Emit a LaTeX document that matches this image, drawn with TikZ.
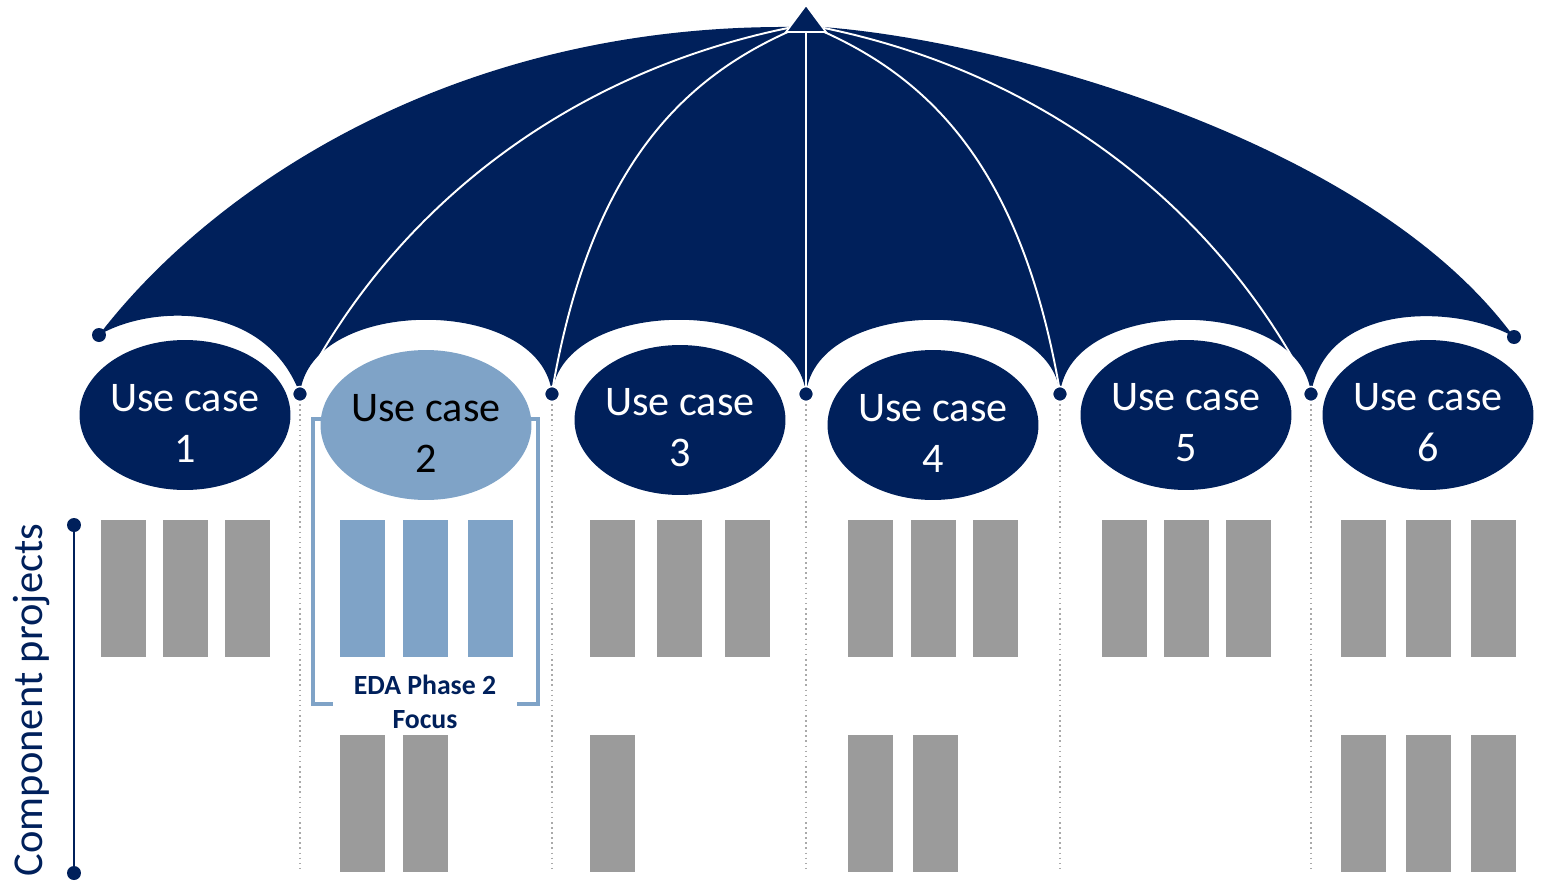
\documentclass[tikz,border=0pt]{standalone}
\usepackage{fontspec}
\setmainfont{Carlito}
\usetikzlibrary{shapes.geometric}
\definecolor{navy}{RGB}{0,32,91}
\definecolor{lblue}{RGB}{127,163,199}
\definecolor{bargray}{RGB}{155,155,155}
\definecolor{sepgray}{RGB}{170,170,170}
\begin{document}
\begin{tikzpicture}[x=0.02cm,y=-0.02cm,
 uc/.style={ellipse, fill=navy, minimum width=4.22cm, minimum height=3cm, inner sep=0pt},
 ucl/.style={uc, fill=lblue},
 uctext/.style={text=white, align=center, inner sep=0pt, font=\fontsize{24}{29}\selectfont},
 uctextl/.style={uctext, text=black},
 dot/.style={circle, fill=navy, draw=white, line width=0.9pt, minimum size=0.3cm, inner sep=0pt},
 tipdot/.style={circle, fill=navy, minimum size=0.28cm, inner sep=0pt},
 rib/.style={white, line width=1.1pt},
 sep/.style={sepgray, dotted, line width=0.9pt},
 bar/.style={fill=bargray},
 bluebar/.style={fill=lblue},
 bracket/.style={lblue, line width=2pt},
]
\useasboundingbox (0,0) rectangle (1549,886);

% canopy
\fill[navy] (99,335) .. controls (210,190) and (450,25) .. (790,27) -- (822,27)
 .. controls (1000,40) and (1370,140) .. (1514,337)
 .. controls (1460,305) and (1326,300) .. (1311,394)
 .. controls (1301,295) and (1070,295) .. (1060,394)
 .. controls (1050,295) and (816,295) .. (806,394)
 .. controls (796,295) and (562,295) .. (552,394)
 .. controls (542,295) and (310,295) .. (300,394)
 .. controls (265,300) and (150,305) .. (99,335) -- cycle;

% dots and apex points
\node[tipdot] (tl) at (99,335) {};
\node[tipdot] (tr) at (1514,337) {};
\coordinate (aL1) at (788,28);
\coordinate (aL2) at (790,31);
\coordinate (aC) at (806,32);
\coordinate (aR2) at (822,31);
\coordinate (aR1) at (824,28);

% ribs
\draw[rib] (aL1) .. controls (560,75) and (390,215) .. (300,392);
\draw[rib] (aL2) .. controls (680,80) and (590,170) .. (552,392);
\draw[rib] (aC) -- (806,394);
\draw[rib] (aR2) .. controls (932,80) and (1022,170) .. (1060,392);
\draw[rib] (aR1) .. controls (1052,75) and (1222,215) .. (1311,392);

% apex triangle
\filldraw[fill=navy, draw=white, line width=1pt] (806,5) -- (786,32) -- (826,32) -- cycle;

% separators
\foreach \x/\n in {300/1,552/2,806/3,1060/4,1311/5}{
  \coordinate (s\n) at (\x,870);
  \draw[sep] (\x,394) -- (s\n);
  \node[dot] (d\n) at (\x,394) {};
}

% bracket
\draw[bracket] (328,419) -- (313,419) -- (313,704) -- (333,704);
\draw[bracket] (524,419) -- (538,419) -- (538,704) -- (517,704);

% use case ellipses
\node[uc] (u1) at (185,415) {};
\node[ucl] (u2) at (426,425) {};
\node[uc] (u3) at (680,420) {};
\node[uc] (u4) at (933,425) {};
\node[uc] (u5) at (1186,415) {};
\node[uc] (u6) at (1428,415) {};
\node[uctext] (t1) at ([yshift=-0.16cm]u1.center) {Use case\\1};
\node[uctextl] (t2) at ([yshift=-0.16cm]u2.center) {Use case\\2};
\node[uctext] (t3) at ([yshift=-0.16cm]u3.center) {Use case\\3};
\node[uctext] (t4) at ([yshift=-0.16cm]u4.center) {Use case\\4};
\node[uctext] (t5) at ([yshift=-0.16cm]u5.center) {Use case\\5};
\node[uctext] (t6) at ([yshift=-0.16cm]u6.center) {Use case\\6};

% bars row 1
\foreach \x in {101,163,225, 590,657,725, 848,911,973, 1102,1164,1226, 1341,1406,1471}
  \fill[bar] (\x,520) rectangle ++(45,137);
\foreach \x in {340,403,468}
  \fill[bluebar] (\x,520) rectangle ++(45,137);
% bars row 2
\foreach \x in {340,403, 590, 848,913, 1341,1406,1471}
  \fill[bar] (\x,735) rectangle ++(45,137);

% EDA label
\node[text=navy, font=\bfseries\fontsize{15.8}{19}\selectfont, align=center] (eda) at (425,702) {EDA Phase 2\\Focus};

% axis
\node[tipdot] (a1) at (74,525) {};
\node[tipdot] (a2) at (74,873) {};
\draw[navy, line width=1.7pt] (a1.center) -- (a2.center);
\node[text=navy, rotate=90, font=\fontsize{24.2}{29}\selectfont] (cp) at (32,700) {Component projects};
\end{tikzpicture}
\end{document}
